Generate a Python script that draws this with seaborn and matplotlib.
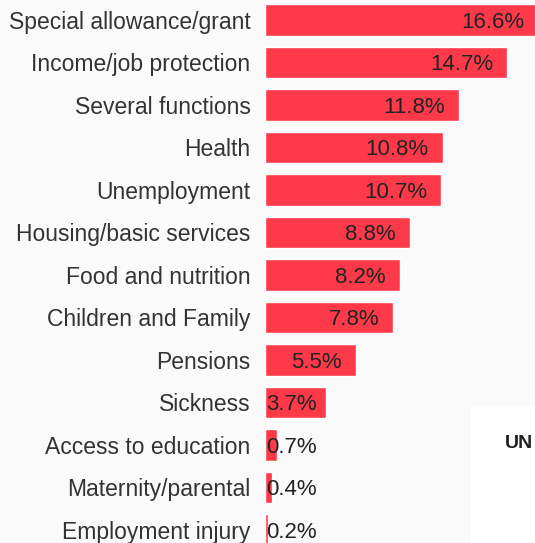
import seaborn as sns
import matplotlib.pyplot as plt
import pandas as pd

categories = ['Special allowance/grant', 'Income/job protection', 'Several functions',
              'Health', 'Unemployment', 'Housing/basic services', 'Food and nutrition',
              'Children and Family', 'Pensions', 'Sickness', 'Access to education',
              'Maternity/parental', 'Employment injury']
shares = [16.6, 14.7, 11.8, 10.8, 10.7, 8.8, 8.2, 7.8, 5.5, 3.7, 0.7, 0.4, 0.2]

df = pd.DataFrame({'category': categories, 'share': shares})

W, H = 535, 543
bg = '#fafafa'
bar_color = '#fe3a4a'

sns.set_style('white')
plt.rcParams['font.family'] = ['Liberation Sans', 'DejaVu Sans']

fig = plt.figure(figsize=(W / 100, H / 100), dpi=100, facecolor=bg)
left = 265 / W
ax = fig.add_axes([left, 0, 1 - left, 1])
ax.set_facecolor(bg)

sns.barplot(data=df, x='share', y='category', orient='h', color=bar_color,
            saturation=1, width=0.75, ax=ax)

px_per_unit = 16.46
ax.set_xlim(0, (W - 265) / px_per_unit)
ax.set_ylim(12.306, -0.4706)
ax.set_xlabel('')
ax.set_ylabel('')
ax.set_xticks([])
ax.tick_params(axis='y', length=0, pad=10.5, labelsize=16.5, labelcolor='#333333')
for s in ax.spines.values():
    s.set_visible(False)

# value labels: right-aligned inside the bar, or at the bar start if too short
pad = 14 / px_per_unit
for i, v in enumerate(shares):
    if v < 4.5:
        ax.text(0.05, i, f'{v}%', ha='left', va='center_baseline', fontsize=16, color='#222222')
    else:
        ax.text(v - pad, i, f'{v}%', ha='right', va='center_baseline', fontsize=16, color='#222222')

# partially visible overlay box in the lower right
fig.patches.append(plt.Rectangle((471 / W, 0), 1, 1 - 406 / H, transform=fig.transFigure,
                                 facecolor='white', edgecolor='none', zorder=5))
fig.text(533 / W, 1 - 444 / H, 'UN', fontsize=14, fontweight='bold', color='#222222',
         va='center', ha='right', zorder=6)

fig.savefig('out.png', dpi=100, facecolor=bg)
